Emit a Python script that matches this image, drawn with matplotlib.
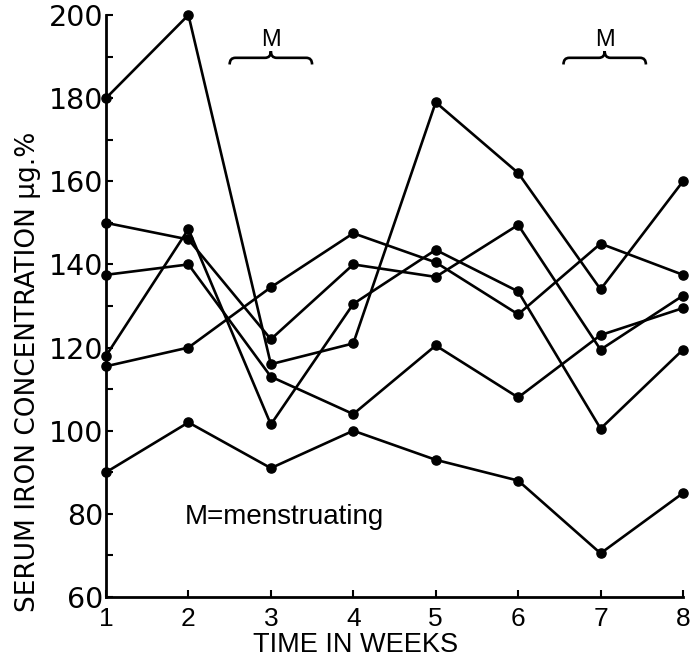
import matplotlib
matplotlib.use("Agg")
import matplotlib.pyplot as plt
from matplotlib.path import Path
from matplotlib.patches import PathPatch
from matplotlib.ticker import MultipleLocator

# weekly serum iron readings (ug/100 ml), one list per subject
weeks = [1, 2, 3, 4, 5, 6, 7, 8]
subject_a = [180, 200, 116, 121, 179, 162, 134, 160]
subject_b = [150, 146, 122, 140, 137, 149.5, 119.5, 132.5]
subject_c = [137.5, 140, 113, 104, 120.5, 108, 123, 129.5]
subject_d = [118, 148.5, 101.5, 130.5, 143.5, 133.5, 100.5, 119.5]
subject_e = [115.5, 120, 134.5, 147.5, 140.5, 128, 145, 137.5]
subject_f = [90, 102, 91, 100, 93, 88, 70.5, 85]

# weeks in which menstruation occurred
menstruation_weeks = [3, 7.05]

LINE = "black"
SANS = ["Liberation Sans", "DejaVu Sans"]


def draw_brace(ax, x0, x1, y, h, dx=0.07):
    # horizontal curly brace opening downward, tip pointing up
    xm = (x0 + x1) / 2
    verts = [
        (x0, y - h), (x0, y), (x0 + dx, y),
        (xm - dx, y),
        (xm, y), (xm, y + h),
        (xm, y), (xm + dx, y),
        (x1 - dx, y),
        (x1, y), (x1, y - h),
    ]
    codes = [
        Path.MOVETO, Path.CURVE3, Path.CURVE3,
        Path.LINETO,
        Path.CURVE3, Path.CURVE3,
        Path.CURVE3, Path.CURVE3,
        Path.LINETO,
        Path.CURVE3, Path.CURVE3,
    ]
    patch = PathPatch(Path(verts, codes), fill=False, lw=1.9, color=LINE,
                      clip_on=False)
    ax.add_patch(patch)


def main():
    fig = plt.figure(figsize=(6.94, 6.62), dpi=100)
    ax = fig.add_axes([106 / 694, 65 / 662, 577 / 694, 582 / 662])

    for series in [subject_a, subject_b, subject_c, subject_d, subject_e, subject_f]:
        ax.plot(weeks, series, color=LINE, lw=1.9, marker="o", ms=6.6,
                clip_on=False, zorder=3)

    ax.set_xlim(1, 8)
    ax.set_ylim(60, 200)
    for side in ["top", "right"]:
        ax.spines[side].set_visible(False)
    for side in ["left", "bottom"]:
        ax.spines[side].set_linewidth(2.0)

    ax.xaxis.set_major_locator(MultipleLocator(1))
    ax.yaxis.set_major_locator(MultipleLocator(20))
    ax.yaxis.set_minor_locator(MultipleLocator(10))
    ax.tick_params(axis="both", which="both", direction="in", length=5, width=1.5)
    ax.tick_params(axis="y", which="major", pad=2, labelsize=20.5)
    ax.tick_params(axis="x", which="major", pad=7.5, labelsize=19)
    for lbl in ax.get_xticklabels():
        lbl.set_family(SANS)

    ax.set_xlabel("TIME IN WEEKS", fontsize=19.5, family=SANS)
    ax.xaxis.set_label_coords((356 - 106) / 577, -0.06)
    fig.text(28 / 694, 50 / 662, "SERUM IRON CONCENTRATION µg.%",
             rotation=90, ha="center", va="bottom", fontsize=19)

    ax.text(1.96, 79.2, "M=menstruating", fontsize=20, va="center", family=SANS)

    for wk in menstruation_weeks:
        draw_brace(ax, wk - 0.5, wk + 0.5, 189.7, 1.6)
        ax.text(wk, 194.0, "M", ha="center", va="center", fontsize=17,
                family=SANS)

    fig.savefig("out.png", dpi=100)


if __name__ == "__main__":
    main()
